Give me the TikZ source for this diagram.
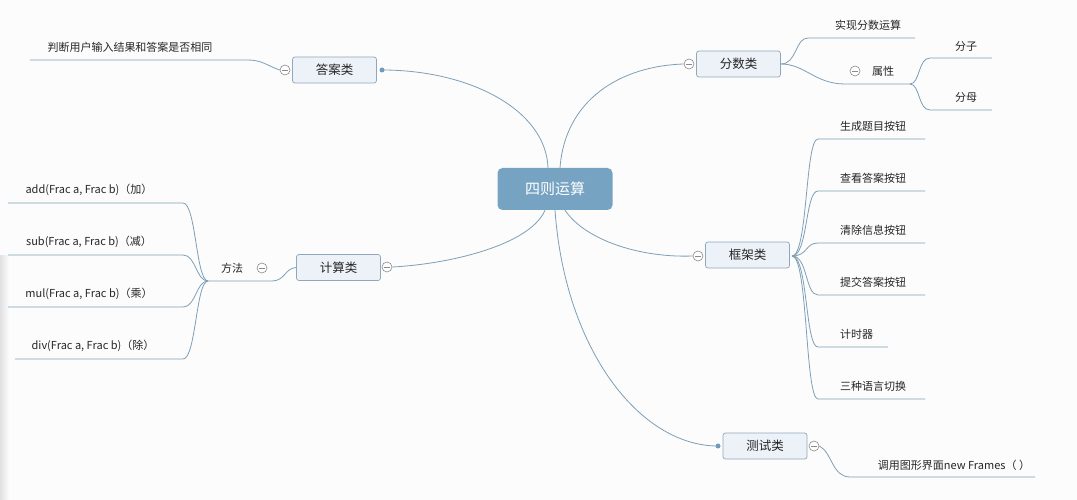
\documentclass[tikz,border=0pt]{standalone}
\usepackage{fontspec}
\setmainfont{Noto Sans CJK SC}
\definecolor{linec}{HTML}{7E9FB6}
\definecolor{boxfill}{HTML}{EDF2F8}
\definecolor{boxborder}{HTML}{8FA6BC}
\definecolor{centerfill}{HTML}{77A3C3}
\definecolor{dotc}{HTML}{6E9BBE}
\definecolor{bg}{HTML}{FCFCFC}
\definecolor{circc}{HTML}{8A8A8A}
\tikzset{
  conn/.style={draw=linec, line width=0.8pt},
  topic/.style={draw=boxborder, fill=boxfill, rounded corners=2.5pt, minimum width=84pt, minimum height=26pt, font=\fontsize{12.5}{14}\selectfont, text=black!85, line width=0.7pt},
  central/.style={fill=centerfill, rounded corners=5pt, minimum width=115pt, minimum height=42pt, font=\fontsize{15}{17}\selectfont, text=white},
  leaf/.style={font=\fontsize{11}{13}\selectfont, text=black!85, inner sep=0pt},
  collapse/.style={circle, draw=circc, fill=white, minimum size=10pt, inner sep=0pt, line width=0.6pt,
    path picture={\draw[circc, line width=0.6pt] ([xshift=-3pt]path picture bounding box.center) -- ([xshift=3pt]path picture bounding box.center);}},
  dotn/.style={circle, fill=dotc, minimum size=5pt, inner sep=0pt},
}
\begin{document}
\begin{tikzpicture}[x=1pt,y=-1pt]
\useasboundingbox (0,0) rectangle (1077,500);
\fill[bg] (0,0) rectangle (1077,500);
\shade[left color=black!12, right color=bg] (0,255) rectangle (9,500);

% central
\node[central] (c) at (555,189) {四则运算};

% main topics
\node[topic] (ans) at (334.5,70) {答案类};
\node[topic] (frac) at (738.5,64) {分数类};
\node[topic] (frame) at (747.5,255) {框架类};
\node[topic] (calc) at (338.5,267.5) {计算类};
\node[topic] (test) at (765,446) {测试类};

% collapse circles / dots
\node[collapse] (ansc) at (285,70) {};
\node[dotn] (ansd) at (382,70) {};
\node[collapse] (fracc) at (689,64) {};
\node[collapse] (framec) at (698,256) {};
\node[collapse] (calcc) at (387,267) {};
\node[collapse] (testc) at (814,446) {};
\node[dotn] (testd) at (718,446) {};

% central connectors
\draw[conn] ([xshift=-7pt]c.north) .. controls (546,110) and (470,70) .. (ansd.center);
\draw[conn] ([xshift=5pt]c.north) .. controls (565,100) and (620,66) .. (fracc.west);
\draw[conn] ([xshift=10pt]c.south) .. controls (585,240) and (640,258) .. (framec.west);
\draw[conn] ([xshift=-10pt]c.south) .. controls (530,245) and (450,264) .. (calcc.east);
\draw[conn] (c.south) .. controls (565,350) and (640,446) .. (testd.center);

% 答案类 child
\node[leaf] (a1) at (130,47) {判断用户输入结果和答案是否相同};
\coordinate (a1l) at (30,60);
\coordinate (a1r) at (248,60);
\draw[conn] (a1l) -- (a1r) .. controls (262,60) and (268,66) .. (ansc.west);

% 分数类 children
\node[leaf] (f1) at (868,25) {实现分数运算};
\coordinate (f1l) at (808,38);
\coordinate (f1r) at (915,38);
\draw[conn] (frac.east) .. controls (797,64) and (795,38) .. (f1l) -- (f1r);
\node[collapse] (f2c) at (855,71) {};
\node[leaf] (f2) at (883,71) {属性};
\coordinate (f2l) at (845,84);
\coordinate (f2r) at (910,84);
\draw[conn] (frac.east) .. controls (805,64) and (815,84) .. (f2l) -- (f2r);
\node[leaf] (f21) at (966,46) {分子};
\coordinate (f21l) at (930,58);
\coordinate (f21r) at (992,58);
\draw[conn] (f2r) .. controls (920,84) and (918,58) .. (f21l) -- (f21r);
\node[leaf] (f22) at (966,97) {分母};
\coordinate (f22l) at (930,110);
\coordinate (f22r) at (992,110);
\draw[conn] (f2r) .. controls (920,84) and (918,110) .. (f22l) -- (f22r);

% 框架类 children
\coordinate (fr) at (792,256);
\foreach \n/\y/\t/\e in {g1/139/生成题目按钮/925, g2/191/查看答案按钮/925, g3/243/清除信息按钮/925, g4/295/提交答案按钮/925, g5/347/计时器/888, g6/399/三种语言切换/925}{
  \node[leaf, anchor=west] (\n) at (840,\y-13) {\t};
  \coordinate (\n l) at (818,\y);
  \coordinate (\n r) at (\e,\y);
  \draw[conn] (fr) .. controls (808,256) and (805,\y) .. (\n l) -- (\n r);
}

% 计算类 children
\node[leaf] (m) at (232,268) {方法};
\node[collapse] (mc) at (262,268) {};
\coordinate (ml) at (208,281);
\coordinate (mr) at (272,281);
\draw[conn] (calc.west) .. controls (285,268) and (285,281) .. (mr) -- (ml);
\foreach \n/\y/\t/\s/\cx in {k1/203/{add(Frac a, Frac b)（加）}/8/89, k2/255/{sub(Frac a, Frac b)（减）}/8/89, k3/307/{mul(Frac a, Frac b)（乘）}/8/89, k4/359/{div(Frac a, Frac b)（除）}/15/93}{
  \node[leaf] (\n) at (\cx,\y-13) {\t};
  \coordinate (\n l) at (\s,\y);
  \coordinate (\n r) at (183,\y);
  \draw[conn] (ml) .. controls (196,281) and (196,\y) .. (\n r) -- (\n l);
}

% 测试类 child
\node[leaf] (t1) at (954,465) {调用图形界面new Frames（ ）};
\coordinate (t1l) at (850,477);
\coordinate (t1r) at (1035,477);
\draw[conn] (testc.east) .. controls (832,452) and (832,477) .. (t1l) -- (t1r);
\end{tikzpicture}
\end{document}
